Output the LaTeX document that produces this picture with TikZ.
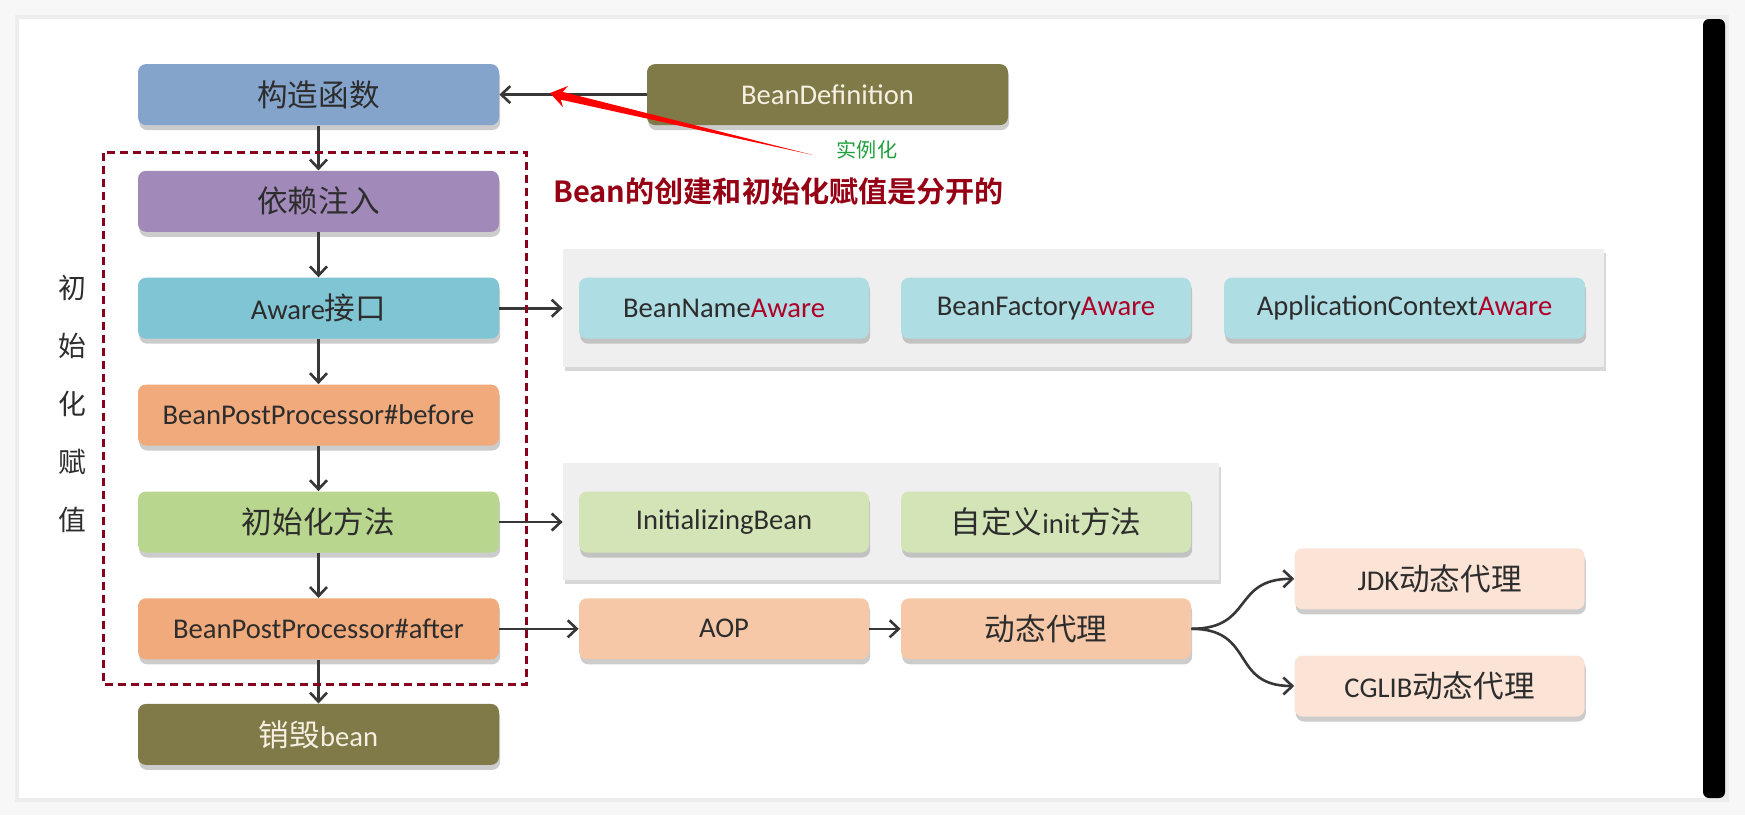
\documentclass[tikz,border=0pt]{standalone}
\usepackage{fontspec}
\setmainfont{Carlito}
\newfontfamily\cjk{Noto Sans CJK SC}[BoldFont={Noto Sans CJK SC Bold},Scale=1.07]
\usetikzlibrary{arrows.meta,shadows,calc}

\definecolor{ctorblue}{RGB}{132,164,204}
\definecolor{injpurple}{RGB}{161,137,185}
\definecolor{awareteal}{RGB}{127,197,212}
\definecolor{bpporange}{RGB}{240,170,124}
\definecolor{initgreen}{RGB}{184,214,141}
\definecolor{olivebox}{RGB}{127,122,72}
\definecolor{lightteal}{RGB}{174,221,227}
\definecolor{lightgreen}{RGB}{211,228,183}
\definecolor{lightorange}{RGB}{246,200,168}
\definecolor{paleorange}{RGB}{251,227,214}
\definecolor{panelgray}{RGB}{239,239,239}
\definecolor{dashred}{RGB}{135,0,30}
\definecolor{awarered}{RGB}{175,0,40}
\definecolor{titlered}{RGB}{150,0,20}
\definecolor{labelgreen}{RGB}{30,160,60}
\definecolor{linegray}{RGB}{55,55,55}
\definecolor{textgray}{RGB}{45,45,45}
\definecolor{cream}{RGB}{245,240,225}

\tikzset{
  nodebox/.style={rectangle, rounded corners=4pt, minimum height=30.5pt,
    text=textgray, font=\fontsize{14.3}{16}\selectfont,
    drop shadow={shadow xshift=0.6pt, shadow yshift=-2.5pt, opacity=0.4}},
  stagebox/.style={nodebox, minimum width=180.5pt},
  sidebox/.style={nodebox, minimum width=145pt},
  panel/.style={rectangle, fill=panelgray,
    drop shadow={shadow xshift=1pt, shadow yshift=-2pt, opacity=0.3}},
  flow/.style={draw=linegray, line width=1.3pt, -{Straight Barb[length=4.5pt,width=8.5pt]}},
}

\begin{document}
\begin{tikzpicture}[x=0.5pt, y=-0.5pt]
  \useasboundingbox (0,0) rectangle (1745,815);
  \fill[gray!6] (0,0) rectangle (1745,815);
  \fill[gray!14] (15,15) rectangle (1729,802);
  \fill[white] (19,19) rectangle (1705,798);
  \fill[black, rounded corners=3pt] (1703,19) rectangle (1725,798);

  \node (awarepanel) [panel, minimum width=520.5pt, minimum height=59pt] at (1083.5,308.3) {};
  \node (initpanel) [panel, minimum width=327.8pt, minimum height=58.4pt] at (890.8,521.4) {};

  \node (ctor) [stagebox, fill=ctorblue] at (318.5,94.6) {\cjk 构造函数};
  \node (inject) [stagebox, fill=injpurple] at (318.5,201.3) {\cjk 依赖注入};
  \node (aware) [stagebox, fill=awareteal] at (318.5,308.2) {Aware{\cjk 接口}};
  \node (before) [stagebox, fill=bpporange] at (318.5,415) {BeanPostProcessor\#before};
  \node (initm) [stagebox, fill=initgreen] at (318.5,522) {\cjk 初始化方法};
  \node (after) [stagebox, fill=bpporange] at (318.5,628.8) {BeanPostProcessor\#after};
  \node (destroy) [stagebox, fill=olivebox, text=cream] at (318.5,734.4) {{\cjk 销毁}bean};
  \node (beandef) [stagebox, fill=olivebox, text=cream] at (827.5,94.6) {BeanDefinition};

  \node (namea) [sidebox, fill=lightteal] at (724,308.2) {BeanName\textcolor{awarered}{Aware}};
  \node (facta) [sidebox, fill=lightteal] at (1046,308.2) {BeanFactory\textcolor{awarered}{Aware}};
  \node (ctxa) [nodebox, fill=lightteal, minimum width=180.5pt] at (1404.5,308.2)
    {ApplicationContext\textcolor{awarered}{Aware}};
  \node (initbean) [sidebox, fill=lightgreen] at (724,522) {InitializingBean};
  \node (custinit) [sidebox, fill=lightgreen] at (1046,522) {{\cjk 自定义}init{\cjk 方法}};
  \node (aop) [sidebox, fill=lightorange] at (724,628.8) {AOP};
  \node (proxy) [sidebox, fill=lightorange] at (1046,628.8) {\cjk 动态代理};
  \node (jdk) [sidebox, fill=paleorange] at (1439.6,578.8) {JDK{\cjk 动态代理}};
  \node (cglib) [sidebox, fill=paleorange] at (1439.6,686) {CGLIB{\cjk 动态代理}};

  \node (side) [text=textgray, font=\cjk\fontsize{13}{29}\selectfont, align=center]
    at (72,403.5) {初\\始\\化\\赋\\值};
  \node (title) [anchor=west, inner sep=0pt, text=titlered,
    font=\cjk\bfseries\fontsize{13.6}{16}\selectfont]
    at (553,191.4) {Bean的创建和初始化赋值是分开的};
  \node (inst) [text=labelgreen, font=\cjk\fontsize{9.4}{11}\selectfont] at (867,150) {实例化};

  \draw[flow] (beandef) -- (ctor);
  \draw[flow] (ctor) -- (inject);
  \draw[flow] (inject) -- (aware);
  \draw[flow] (aware) -- (before);
  \draw[flow] (before) -- (initm);
  \draw[flow] (initm) -- (after);
  \draw[flow] (after) -- (destroy);
  \draw[flow] (aware.east) -- (aware.east -| awarepanel.west);
  \draw[flow] (initm.east) -- (initm.east -| initpanel.west);
  \draw[flow] (after) -- (aop);
  \draw[flow] (aop) -- (proxy);
  \draw[flow] (proxy.east) to[out=0, in=180, looseness=1.4] (jdk.west);
  \draw[flow] (proxy.east) to[out=0, in=180, looseness=1.4] (cglib.west);

  \draw[dashred, line width=1.3pt, dash pattern=on 4pt off 2.5pt]
    (103.5,152.5) rectangle (526.4,684.4);

  \coordinate (hit) at (550,93);
  \coordinate (tail) at (813,155);
  \coordinate (hb) at ($(hit)!6pt!(tail)$);
  \coordinate (wb) at ($(hit)!8pt!(tail)$);
  \fill[red] (tail) -- ($(hb)!2pt!90:(hit)$) -- ($(wb)!5.5pt!90:(hit)$) -- (hit)
    -- ($(wb)!5.5pt!-90:(hit)$) -- ($(hb)!2pt!-90:(hit)$) -- cycle;
\end{tikzpicture}
\end{document}
